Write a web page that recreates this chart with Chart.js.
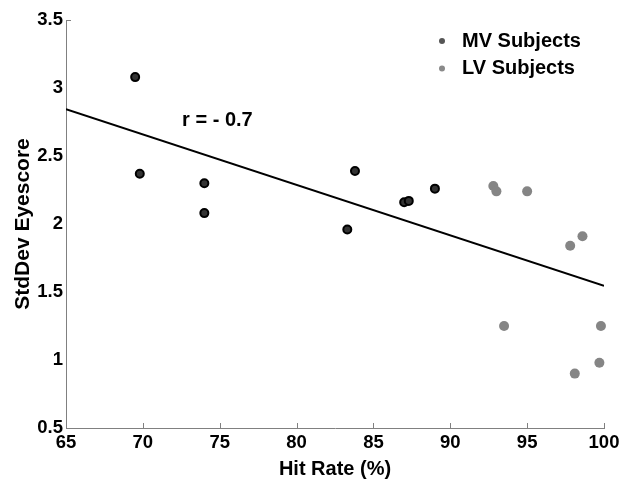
<!DOCTYPE html>
<html>
<head>
<meta charset="utf-8">
<script src="https://cdn.jsdelivr.net/npm/chart.js@4/dist/chart.umd.min.js"></script>
<style>
  body { margin: 0; background: #fff; }
  #wrap { width: 625px; height: 483px; }
</style>
</head>
<body>
<div id="wrap"><canvas id="scatter-chart" width="625" height="483"></canvas></div>
<script>
// values
const mvHitRate = [69.5, 69.8, 74.0, 74.0, 83.3, 83.8, 87.0, 87.3, 89.0];
const mvStdDev = [3.08, 2.37, 2.30, 2.08, 1.96, 2.39, 2.16, 2.17, 2.26];
const lvHitRate = [92.8, 93.0, 95.0, 97.8, 98.6, 93.5, 99.8, 99.7, 98.1];
const lvStdDev = [2.28, 2.24, 2.24, 1.84, 1.91, 1.25, 1.25, 0.98, 0.90];
const fitX = [65, 100];
const fitY = [2.845, 1.545];
const corrLabel = "r = - 0.7";
const corrPos = [74.85, 2.76];
const xTicks = [65, 70, 75, 80, 85, 90, 95, 100];
const yTicks = [0.5, 1, 1.5, 2, 2.5, 3, 3.5];

const FONT = '"Liberation Sans", Arial, Helvetica, sans-serif';
const toPoints = (xs, ys) => xs.map((x, i) => ({ x: x, y: ys[i] }));

// inward ticks, correlation text and legend
const extras = {
  id: "extras",
  afterDraw(chart) {
    const ctx = chart.ctx;
    const { left, bottom } = chart.chartArea;
    const xs = chart.scales.x, ys = chart.scales.y;
    ctx.save();
    ctx.strokeStyle = "#808080";
    ctx.lineWidth = 1;
    ctx.beginPath();
    xTicks.forEach((t) => {
      const px = Math.round(xs.getPixelForValue(t)) + 0.5;
      ctx.moveTo(px, bottom);
      ctx.lineTo(px, bottom - 5);
    });
    const ty = Math.round(ys.getPixelForValue(yTicks[yTicks.length - 1])) + 0.5;
    ctx.moveTo(left, ty);
    ctx.lineTo(left + 5, ty);
    ctx.stroke();

    ctx.fillStyle = "#000";
    ctx.font = "bold 20px " + FONT;
    ctx.textAlign = "center";
    ctx.textBaseline = "middle";
    ctx.fillText(corrLabel, xs.getPixelForValue(corrPos[0]), ys.getPixelForValue(corrPos[1]));

    // legend
    const items = chart.data.datasets.filter((d) => d.legendColor);
    items.forEach((d, i) => {
      const y = 41 + i * 27.5;
      ctx.beginPath();
      ctx.fillStyle = d.legendColor;
      ctx.arc(442, y, 3, 0, Math.PI * 2);
      ctx.fill();
      ctx.fillStyle = "#000";
      ctx.textAlign = "left";
      ctx.fillText(d.label, 462, y);
    });
    ctx.restore();
  },
};

const ctx = document.getElementById("scatter-chart").getContext("2d");
new Chart(ctx, {
  type: "scatter",
  data: {
    datasets: [
      {
        label: "MV Subjects",
        data: toPoints(mvHitRate, mvStdDev),
        pointRadius: 4,
        pointBorderWidth: 2,
        borderColor: "#000",
        backgroundColor: "#333",
        legendColor: "#555",
        clip: false,
      },
      {
        label: "LV Subjects",
        data: toPoints(lvHitRate, lvStdDev),
        pointRadius: 5,
        pointBorderWidth: 0,
        borderColor: "#858585",
        backgroundColor: "#858585",
        legendColor: "#8a8a8a",
        clip: false,
      },
      {
        label: "fit",
        type: "line",
        data: toPoints(fitX, fitY),
        borderColor: "#000",
        borderWidth: 2,
        pointRadius: 0,
        fill: false,
      },
    ],
  },
  options: {
    responsive: false,
    animation: false,
    layout: { padding: { left: 0, right: 21, top: 20, bottom: 0 } },
    plugins: { legend: { display: false }, tooltip: { enabled: false } },
    scales: {
      x: {
        type: "linear",
        min: 65,
        max: 100,
        afterBuildTicks: (s) => { s.ticks = xTicks.map((v) => ({ value: v })); },
        afterFit: (s) => { s.height = 55; },
        grid: { drawOnChartArea: false, drawTicks: false },
        border: { display: true, color: "#808080", width: 1 },
        ticks: { color: "#000", padding: 4, maxRotation: 0, callback: (v) => String(v), font: { family: FONT, size: 18.5, weight: "bold" } },
        title: {
          display: true,
          text: "Hit Rate (%)",
          color: "#000",
          padding: { top: 0, bottom: 2 },
          font: { family: FONT, size: 20, weight: "bold" },
        },
      },
      y: {
        type: "linear",
        min: 0.5,
        max: 3.5,
        afterBuildTicks: (s) => { s.ticks = yTicks.map((v) => ({ value: v })); },
        afterFit: (s) => { s.width = 66; },
        grid: { drawOnChartArea: false, drawTicks: false },
        border: { display: true, color: "#808080", width: 1 },
        ticks: { color: "#000", padding: 3, callback: (v) => String(v), font: { family: FONT, size: 18.5, weight: "bold" } },
        title: {
          display: true,
          text: "StdDev Eyescore",
          color: "#000",
          padding: { top: 11, bottom: 0 },
          font: { family: FONT, size: 21, weight: "bold" },
        },
      },
    },
  },
  plugins: [extras],
});
</script>
</body>
</html>
